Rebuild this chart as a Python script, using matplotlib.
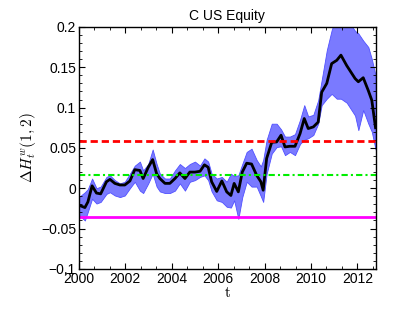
import matplotlib
matplotlib.use('Agg')
import matplotlib.pyplot as plt
from matplotlib.ticker import MultipleLocator, AutoMinorLocator, FuncFormatter

# time in decimal years, estimate and band
t = [2000.00, 2000.26, 2000.39, 2000.57, 2000.76, 2000.94, 2001.19, 2001.34, 2001.55, 2001.77,
     2001.98, 2002.20, 2002.41, 2002.63, 2002.77, 2002.99, 2003.18, 2003.35, 2003.49, 2003.71,
     2003.92, 2004.14, 2004.35, 2004.57, 2004.78, 2005.00, 2005.22, 2005.41, 2005.57, 2005.72,
     2005.94, 2006.16, 2006.37, 2006.55, 2006.69, 2006.87, 2007.04, 2007.23, 2007.44, 2007.66,
     2007.84, 2007.94, 2008.09, 2008.31, 2008.52, 2008.71, 2008.88, 2009.09, 2009.31, 2009.53,
     2009.71, 2009.88, 2010.10, 2010.31, 2010.46, 2010.68, 2010.89, 2011.11, 2011.29, 2011.54,
     2011.90, 2012.04, 2012.25, 2012.47, 2012.62, 2012.78]
mid = [-0.021, -0.024, -0.017, 0.003, -0.006, -0.007, 0.008, 0.011, 0.006, 0.004,
       0.004, 0.009, 0.023, 0.022, 0.012, 0.026, 0.0355, 0.018, 0.012, 0.006,
       0.006, 0.012, 0.019, 0.012, 0.020, 0.020, 0.021, 0.029, 0.026, 0.008,
       -0.004, 0.009, -0.0045, -0.009, 0.006, -0.0045, 0.020, 0.031, 0.030, 0.016,
       0.008, -0.0025, 0.037, 0.057, 0.0574, 0.0657, 0.0512, 0.052, 0.052, 0.0678,
       0.0864, 0.074, 0.076, 0.082, 0.119, 0.130, 0.1545, 0.1586, 0.165, 0.152,
       0.136, 0.132, 0.137, 0.121, 0.109, 0.075]
lo = [-0.033, -0.040, -0.029, -0.013, -0.019, -0.017, -0.007, -0.005, -0.009, -0.011,
      -0.009, 0.000, 0.008, -0.003, -0.006, 0.006, 0.018, 0.002, -0.004, -0.006,
      -0.006, -0.003, 0.006, -0.003, 0.008, 0.010, 0.014, 0.016, 0.010, -0.004,
      -0.015, -0.017, -0.023, -0.024, -0.015, -0.038, -0.011, 0.008, 0.002, 0.002,
      -0.010, -0.017, 0.018, 0.043, 0.051, 0.052, 0.041, 0.045, 0.041, 0.055,
      0.060, 0.062, 0.066, 0.080, 0.103, 0.111, 0.117, 0.111, 0.111, 0.106,
      0.090, 0.072, 0.097, 0.080, 0.070, 0.048]
hi = [-0.011, -0.005, -0.001, 0.012, 0.000, 0.002, 0.014, 0.016, 0.010, 0.006,
      0.008, 0.018, 0.028, 0.033, 0.022, 0.030, 0.048, 0.030, 0.018, 0.012,
      0.012, 0.022, 0.030, 0.025, 0.030, 0.033, 0.028, 0.037, 0.033, 0.018,
      0.012, 0.014, 0.008, 0.018, 0.015, 0.016, 0.030, 0.045, 0.049, 0.035,
      0.027, 0.035, 0.060, 0.080, 0.080, 0.073, 0.064, 0.064, 0.067, 0.085,
      0.103, 0.089, 0.091, 0.109, 0.134, 0.171, 0.196, 0.215, 0.220, 0.210,
      0.195, 0.192, 0.183, 0.175, 0.160, 0.140]
red_level = 0.058
green_level = 0.016
magenta_level = -0.0355

plt.rcParams['font.family'] = ['Liberation Sans', 'DejaVu Sans']
plt.rcParams['mathtext.fontset'] = 'cm'

fig = plt.figure(figsize=(4.15, 3.13), dpi=100)
ax = fig.add_axes([0.190, 0.141, 0.716, 0.773])

ax.fill_between(t, lo, hi, facecolor='#7a7aff', edgecolor='#5050ff', linewidth=0.6)
ax.plot(t, mid, color='black', linewidth=2)
ax.axhline(red_level, color='red', linestyle=(0, (2.6, 1.4)), linewidth=2)
ax.axhline(green_level, color='#00ee00', linestyle=(0, (3, 1.5, 1, 1.5)), linewidth=1.5)
ax.axhline(magenta_level, color='magenta', linewidth=2)

ax.set_xlim(2000, 2012.8)
ax.set_ylim(-0.1, 0.2)
ax.xaxis.set_major_locator(MultipleLocator(2))
ax.xaxis.set_minor_locator(AutoMinorLocator(3))
ax.yaxis.set_major_locator(MultipleLocator(0.05))
ax.yaxis.set_minor_locator(AutoMinorLocator(5))
ax.yaxis.set_major_formatter(FuncFormatter(lambda v, p: ('%g' % round(v, 3)).replace('-', '\u2212')))
ax.tick_params(which='both', direction='in', top=True, right=True, labelsize=10, pad=2)
ax.tick_params(which='major', length=4)
ax.tick_params(which='minor', length=2)
for s in ax.spines.values():
    s.set_linewidth(1)

ax.set_title('C US Equity', fontsize=10, pad=5)
ax.set_xlabel(r'$\mathrm{t}$', fontsize=11, labelpad=0)
ax.set_ylabel(r'$\Delta H_t^w(1,2)$', fontsize=11, labelpad=2)

fig.savefig('out.png', dpi=100)
